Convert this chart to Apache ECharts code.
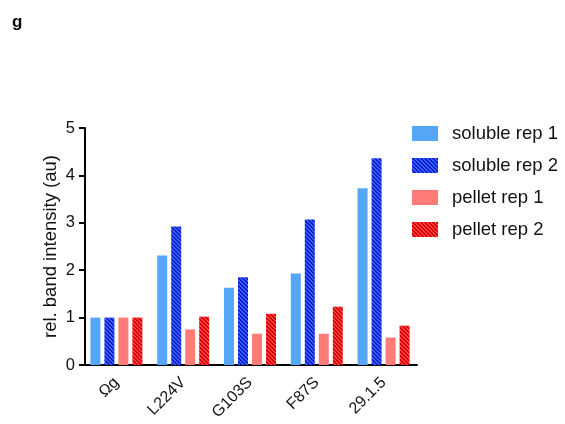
<!DOCTYPE html>
<html><head><meta charset="utf-8">
<script src="https://cdn.jsdelivr.net/npm/echarts@6/dist/echarts.min.js"></script>
<style>html,body{margin:0;padding:0;background:#fff}#c{width:565px;height:424px}</style>
</head><body><div id="c"></div>
<script>
var categories = ['Ωg', 'L224V', 'G103S', 'F87S', '29.1.5'];
var solubleRep1 = [1.0, 2.31, 1.63, 1.93, 3.73];
var solubleRep2 = [1.0, 2.92, 1.85, 3.07, 4.36];
var pelletRep1 = [1.0, 0.75, 0.66, 0.66, 0.58];
var pelletRep2 = [1.0, 1.02, 1.08, 1.23, 0.83];
var seriesNames = ['soluble rep 1', 'soluble rep 2', 'pellet rep 1', 'pellet rep 2'];
var yTicks = [0, 1, 2, 3, 4, 5];

function hatch(bg, fg) {
  var n = 4, c = document.createElement('canvas');
  c.width = n; c.height = n;
  var ctx = c.getContext('2d');
  ctx.fillStyle = bg; ctx.fillRect(0, 0, n, n);
  ctx.fillStyle = fg;
  for (var x = 0; x < n; x++) for (var y = 0; y < n; y++) {
    if (((x - y) % n + n) % n < 2) ctx.fillRect(x, y, 1, 1);
  }
  return { image: c, repeat: 'repeat' };
}
var font = 'Liberation Sans, Arial, sans-serif';
var colors = ['#55a6f7', hatch('#3a5cff', '#0a1fc8'), '#ff7b78', hatch('#ff4040', '#d40000')];
var data = [solubleRep1, solubleRep2, pelletRep1, pelletRep2];
var chart = echarts.init(document.getElementById('c'), null, { renderer: 'canvas' });
chart.setOption({
  animation: false,
  backgroundColor: '#fff',
  textStyle: { fontFamily: font },
  title: { text: 'g', left: 7, top: 9, textStyle: { fontFamily: font, fontWeight: 'bold', fontSize: 17, color: '#000' } },
  grid: { left: 83, top: 128, width: 334, height: 237 },
  legend: {
    orient: 'vertical', left: 407, top: 119, itemWidth: 26, itemHeight: 15, itemGap: 13,
    icon: 'rect',
    textStyle: { fontFamily: font, fontSize: 18.5, lineHeight: 15, color: '#111', padding: [0, 0, 0, 9] },
    data: seriesNames
  },
  xAxis: {
    type: 'category', data: categories,
    axisLine: { lineStyle: { color: '#000', width: 2 } },
    axisTick: { alignWithLabel: true, length: 6, lineStyle: { color: '#000', width: 2 } },
    axisLabel: { rotate: 45, fontSize: 16, color: '#111', fontFamily: font, margin: 15 }
  },
  yAxis: {
    type: 'value', min: 0, max: 5, interval: 1, offset: -2,
    name: 'rel. band intensity (au)', nameLocation: 'middle', nameGap: 25, nameMoveOverlap: false,
    nameTextStyle: { fontSize: 18.5, color: '#111', fontFamily: font },
    axisLine: { show: true, lineStyle: { color: '#000', width: 2 } },
    axisTick: { show: true, length: 6, lineStyle: { color: '#000', width: 2 } },
    axisLabel: { fontSize: 16.5, color: '#111', fontFamily: font, margin: 10 },
    splitLine: { show: false }
  },
  series: seriesNames.map(function (n, i) {
    return { name: n, type: 'bar', data: data[i], barWidth: 10, barGap: '40%', itemStyle: { color: colors[i] } };
  })
});
</script></body></html>
